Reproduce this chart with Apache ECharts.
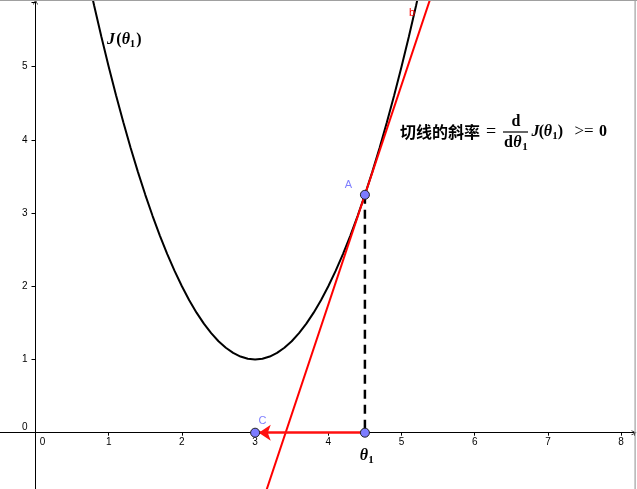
<!DOCTYPE html>
<html><head><meta charset="utf-8">
<script src="https://cdn.jsdelivr.net/npm/echarts@6/dist/echarts.min.js"></script>
<style>html,body{margin:0;padding:0;background:#fff}#c{width:637px;height:489px}</style>
</head><body><div id="c"></div>
<script>
// ---- data ----
const thetaValues = [0.7,0.8,0.9,1.0,1.1,1.2,1.3,1.4,1.5,1.6,1.7,1.8,1.9,2.0,2.1,2.2,2.3,2.4,2.5,2.6,2.7,2.8,2.9,3.0,
  3.1,3.2,3.3,3.4,3.5,3.6,3.7,3.8,3.9,4.0,4.1,4.2,4.3,4.4,4.5,4.6,4.7,4.8,4.9,5.0,5.1,5.2,5.3];
const costValues = [6.29,5.84,5.41,5.00,4.61,4.24,3.89,3.56,3.25,2.96,2.69,2.44,2.21,2.00,1.81,1.64,1.49,1.36,1.25,1.16,1.09,1.04,1.01,1.00,
  1.01,1.04,1.09,1.16,1.25,1.36,1.49,1.64,1.81,2.00,2.21,2.44,2.69,2.96,3.25,3.56,3.89,4.24,4.61,5.00,5.41,5.84,6.29];
const tangentX = [3.0, 5.5];
const tangentY = [-1.25, 6.25];
const pointA = [4.5, 3.25];
const pointTheta = [4.5, 0];
const pointC = [3, 0];
const arrowEnd = [3.05, 0];
const xTickLabels = ['0','1','2','3','4','5','6','7','8'];
const yTickLabels = ['0','1','2','3','4','5'];

const curveData = thetaValues.map((t, i) => [t, costValues[i]]);
const tangentData = tangentX.map((t, i) => [t, tangentY[i]]);

function T(text, x, y, font, color, align) {
  return {type:'text', x:x, y:y, z:100,
    style:{text:text, font:font, fill:color||'#000',
      align:align||'center', verticalAlign:'middle',
      textAlign:align||'center', textVerticalAlign:'middle'}};
}
const SER = '"Liberation Serif", serif';
const MI = 'italic bold 16px ' + SER;
const MR = 'bold 16px ' + SER;
const SUB = 'bold 11px ' + SER;
const SANS = '11px "Liberation Sans", Arial, sans-serif';

const chart = echarts.init(document.getElementById('c'), null, {renderer:'canvas'});
const chevron = 'path://M0,10 L5,0 L10,10 L8.6,10 L5,2.8 L1.4,10 Z';

chart.setOption({
  animation:false,
  backgroundColor:'#fff',
  grid:{left:-37.7, right:3, top:2, bottom:-16.9, containLabel:false, outerBoundsMode:'none'},
  xAxis:{type:'value', min:-1, max:8.176, interval:1, position:'bottom', offset:-73.2,
    axisLine:{onZero:false, lineStyle:{color:'#000', width:1}, symbol:['none', chevron], symbolSize:[7,5]},
    axisTick:{show:true, length:3, lineStyle:{color:'#000'}},
    splitLine:{show:false},
    showMaxLabel:false,
    axisLabel:{fontSize:10, color:'#000', fontFamily:'"Liberation Sans", Arial, sans-serif', margin:5,
      formatter:v => xTickLabels.indexOf(String(v)) < 0 ? '' : (v === 0 ? '{z|0}' : String(v)),
      rich:{z:{fontSize:10, color:'#000', padding:[0,0,0,14]}}}
  },
  yAxis:{type:'value', min:-1, max:5.884, interval:1, position:'left', offset:-73.2,
    axisLine:{onZero:false, lineStyle:{color:'#000', width:1}, symbol:['none', chevron], symbolSize:[7,5]},
    axisTick:{show:true, length:4, lineStyle:{color:'#000'}},
    splitLine:{show:false},
    showMaxLabel:false,
    axisLabel:{fontSize:10, color:'#000', fontFamily:'"Liberation Sans", Arial, sans-serif', margin:8,
      formatter:v => yTickLabels.indexOf(String(v)) < 0 ? '' : (v === 0 ? '{z|0}' : String(v)),
      rich:{z:{fontSize:10, color:'#000', padding:[0,0,10,0]}}}
  },
  series:[
    {type:'line', data:curveData, showSymbol:false, smooth:false, z:2,
      lineStyle:{color:'#000', width:2}},
    {type:'line', data:tangentData, showSymbol:false, z:3,
      lineStyle:{color:'#ff0000', width:2}},
    {type:'line', data:[pointA, pointTheta], showSymbol:false, z:2,
      lineStyle:{color:'#000', width:2.5, type:[9,6]}},
    {type:'lines', coordinateSystem:'cartesian2d', z:4,
      data:[{coords:[pointTheta, arrowEnd]}],
      symbol:['none','arrow'], symbolSize:[9,12],
      lineStyle:{color:'#ff1010', width:2.5, opacity:1}},
    {type:'scatter', data:[pointA, pointTheta, pointC], symbolSize:9, z:6,
      itemStyle:{color:'#7c7cff', borderColor:'#222', borderWidth:1, opacity:1}}
  ],
  graphic:[
    {type:'rect', shape:{x:0, y:0, width:637, height:1}, style:{fill:'#a0a0a0'}, z:100},
    {type:'rect', shape:{x:634.5, y:0, width:1.2, height:489}, style:{fill:'#a0a0a0'}, z:100},
    T('J', 111, 40, MI), T('(', 119, 40, MR), T('θ', 126, 40, MI), T('1', 132.5, 44, SUB), T(')', 139, 40, MR),
    T('切线的斜率', 400, 132, 'bold 16px "Noto Sans CJK SC"', '#000', 'left'),
    T('=', 491, 132, '18px ' + SER),
    T('d', 516, 122, MR),
    {type:'line', shape:{x1:503, y1:132, x2:528, y2:132}, style:{stroke:'#000', lineWidth:1.2}, z:100},
    T('d', 508.5, 143, MR), T('θ', 517.5, 143, MI), T('1', 525, 147, SUB),
    T('J', 535.5, 132, MI), T('(', 541.5, 132, MR), T('θ', 548, 132, MI), T('1', 555, 136, SUB), T(')', 560.5, 132, MR),
    T('>=', 584, 132, '17px ' + SER),
    T('0', 603, 132, MR),
    T('θ', 364, 456, MI), T('1', 371, 460, SUB),
    T('A', 348.5, 185, SANS, '#7f7fff'),
    T('C', 262.5, 420.5, SANS, '#7f7fff'),
    T('b', 412, 12.5, SANS, '#ff0000')
  ]
});
</script>
</body></html>
